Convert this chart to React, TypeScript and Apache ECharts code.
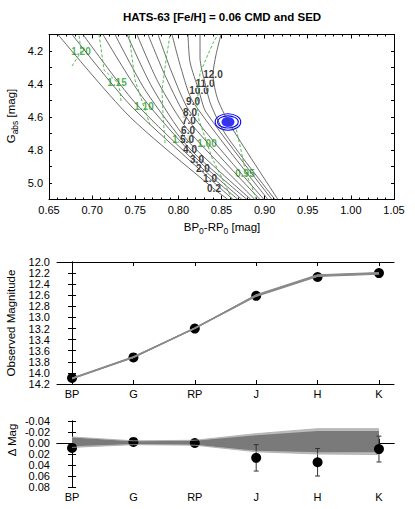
import React, { useEffect, useRef } from 'react';
import * as echarts from 'echarts';

const FONT = 'Liberation Sans, Arial, Helvetica, sans-serif';

// ---------- Panel 1: CMD ----------
const ageLabels = ['0.2', '1.0', '2.0', '3.0', '4.0', '5.0', '6.0', '7.0', '8.0', '9.0', '10.0', '11.0', '12.0'];
const isochrones: number[][][] = [
  [[0.6604, 4.10], [0.7428, 4.594], [0.8413, 5.036], [0.8575, 5.10]],
  [[0.6767, 4.10], [0.7451, 4.533], [0.8367, 4.975], [0.8633, 5.10]],
  [[0.6894, 4.10], [0.7486, 4.506], [0.8285, 4.915], [0.8691, 5.10]],
  [[0.7126, 4.10], [0.7578, 4.476], [0.8216, 4.855], [0.8738, 5.10]],
  [[0.7265, 4.10], [0.7625, 4.445], [0.8135, 4.794], [0.8796, 5.10]],
  [[0.7404, 4.10], [0.7694, 4.418], [0.8100, 4.739], [0.8842, 5.10]],
  [[0.7520, 4.10], [0.7764, 4.388], [0.8112, 4.679], [0.8888, 5.10]],
  [[0.7648, 4.10], [0.7857, 4.361], [0.8123, 4.624], [0.8946, 5.10]],
  [[0.7764, 4.10], [0.7926, 4.333], [0.8135, 4.570], [0.8993, 5.10]],
  [[0.7926, 4.10], [0.8030, 4.303], [0.8170, 4.509], [0.9039, 5.10]],
  [[0.8112, 4.10], [0.8135, 4.267], [0.8239, 4.442], [0.8320, 4.570], [0.9085, 5.10]],
  [[0.8251, 4.10], [0.8251, 4.242], [0.8309, 4.394], [0.8378, 4.527], [0.8552, 4.709], [0.9120, 5.10]],
  [[0.8494, 4.10], [0.8436, 4.224], [0.8401, 4.345], [0.8459, 4.497], [0.8622, 4.667], [0.9155, 5.10]],
];
const ageLabelPos: number[][] = [
  [0.8413, 5.036], [0.8367, 4.975], [0.8285, 4.915], [0.8216, 4.855], [0.8135, 4.794],
  [0.8100, 4.739], [0.8112, 4.679], [0.8123, 4.624], [0.8135, 4.570], [0.8170, 4.509],
  [0.8239, 4.442], [0.8309, 4.394], [0.8401, 4.345],
];
const massLabels = ['1.20', '1.15', '1.10', '1.05', '1.00', '0.95'];
const massTracks: number[][][] = [
  [[0.6767, 4.291], [0.6871, 4.206], [0.6848, 4.10]],
  [[0.7335, 4.503], [0.7323, 4.442], [0.7288, 4.388], [0.7138, 4.315], [0.7080, 4.10]],
  [[0.7671, 4.648], [0.7601, 4.539], [0.7497, 4.376], [0.7451, 4.194], [0.7428, 4.10]],
  [[0.7845, 4.758], [0.7822, 4.588], [0.7810, 4.436], [0.7857, 4.255], [0.7903, 4.10]],
  [[0.8622, 5.10], [0.8506, 4.970], [0.8390, 4.848], [0.8332, 4.758], [0.8239, 4.618], [0.8216, 4.527], [0.8251, 4.333], [0.8401, 4.152], [0.8459, 4.10]],
  [[0.8900, 5.10], [0.8854, 5.024], [0.8784, 4.945], [0.8726, 4.800], [0.8668, 4.667]],
];
const massLabelPos: number[][] = [
  [0.6871, 4.206], [0.7288, 4.388], [0.7601, 4.539], [0.8042, 4.739], [0.8332, 4.758], [0.8772, 4.945],
];
const starCMD = [0.8575, 4.63];
// half-widths of the two confidence ellipses [colour, magnitude]
const starEllipses: number[][] = [[0.0148, 0.050], [0.0120, 0.037]];

// ---------- Panel 2: SED ----------
const bands = ['BP', 'G', 'RP', 'J', 'H', 'K'];
const bandIdx = [0, 1, 2, 3, 4, 5];
const observedMag = [14.09, 13.72, 13.20, 12.61, 12.27, 12.20];
const modelMags: number[][] = [
  [14.10, 13.72, 13.19, 12.60, 12.24, 12.20],
  [14.09, 13.71, 13.19, 12.61, 12.25, 12.21],
  [14.11, 13.72, 13.20, 12.62, 12.26, 12.22],
  [14.10, 13.71, 13.20, 12.59, 12.23, 12.19],
  [14.10, 13.72, 13.19, 12.61, 12.25, 12.20],
];

// ---------- Panel 3: residuals ----------
const residuals = [0.009, -0.002, 0.000, 0.027, 0.035, 0.011];
const residualErr = [0.003, 0.003, 0.003, 0.024, 0.025, 0.0235];
const modelEdgeLow = [-0.011, -0.004, -0.005, -0.017, -0.026, -0.026];
const modelEdgeHigh = [0.008, 0.003, 0.004, 0.016, 0.020, 0.021];
const modelCoreLow = [-0.010, -0.003, -0.004, -0.014, -0.022, -0.022];
const modelCoreHigh = [0.006, 0.002, 0.003, 0.014, 0.017, 0.017];

const axisLineStyle = { show: true, lineStyle: { color: '#000', width: 1 } };
const labelStyle = { color: '#000', fontSize: 11, fontFamily: FONT };

function bandAxis(grid: number, pos: 'top' | 'bottom', showLabel: boolean) {
  return {
    type: 'value', gridIndex: grid, position: pos, min: -0.245, max: 5.245,
    axisLine: axisLineStyle,
    axisTick: { show: true, inside: true, length: 4, customValues: bandIdx, lineStyle: { color: '#000' } },
    axisLabel: {
      show: showLabel, customValues: bandIdx, margin: 4, ...labelStyle,
      formatter: (v: number) => bands[Math.round(v)] ?? '',
    },
    splitLine: { show: false },
  };
}

const rich = {
  a: { fontSize: 11.5, fontFamily: FONT, color: '#000', lineHeight: 12, verticalAlign: 'top' },
  s: { fontSize: 8.5, fontFamily: FONT, color: '#000', lineHeight: 14, verticalAlign: 'bottom' },
};

export default function App() {
  const ref = useRef<HTMLDivElement>(null);
  useEffect(() => {
    if (!ref.current) return;
    const chart = echarts.init(ref.current, undefined, { renderer: 'svg' });
    const grids = [
      { left: 49, top: 34.5, width: 345, height: 165 },
      { left: 57, top: 262, width: 337, height: 122 },
      { left: 57, top: 421, width: 337, height: 66 },
    ];
    const cmdX = (pos: 'top' | 'bottom', show: boolean) => ({
      type: 'value', gridIndex: 0, position: pos, min: 0.65, max: 1.05, interval: 0.05,
      axisLine: axisLineStyle,
      axisTick: { show: true, inside: true, length: 4, lineStyle: { color: '#000' } },
      minorTick: { show: true, splitNumber: 5, length: 2, lineStyle: { color: '#000' } },
      axisLabel: { show: show, margin: 5, ...labelStyle, formatter: (v: number) => v.toFixed(2) },
      splitLine: { show: false },
    });
    const cmdY = (pos: 'left' | 'right', show: boolean) => ({
      type: 'value', gridIndex: 0, position: pos, inverse: true, min: 4.1, max: 5.1, interval: 0.1,
      axisLine: axisLineStyle,
      axisTick: { show: true, inside: true, length: 3, lineStyle: { color: '#000' } },
      axisLabel: {
        show: show, margin: 6, ...labelStyle,
        formatter: (v: number) => (Math.round(v * 10) % 2 === 0 ? v.toFixed(1) : ''),
      },
      splitLine: { show: false },
    });
    const sedY = (pos: 'left' | 'right', show: boolean) => ({
      type: 'value', gridIndex: 1, position: pos, inverse: true, min: 12.0, max: 14.2, interval: 0.2,
      axisLine: axisLineStyle,
      axisTick: { show: true, inside: true, length: 4, lineStyle: { color: '#000' } },
      axisLabel: { show: show, margin: 7, ...labelStyle, formatter: (v: number) => v.toFixed(1) },
      splitLine: { show: false },
    });
    const resY = (pos: 'left' | 'right', show: boolean) => ({
      type: 'value', gridIndex: 2, position: pos, inverse: true, min: -0.04, max: 0.08, interval: 0.02,
      axisLine: axisLineStyle,
      axisTick: { show: true, inside: true, length: 4, lineStyle: { color: '#000' } },
      axisLabel: { show: show, margin: 7, ...labelStyle, formatter: (v: number) => v.toFixed(2) },
      splitLine: { show: false },
    });

    const series: any[] = [];
    isochrones.forEach((iso, i) => {
      series.push({
        type: 'line', name: 'iso' + ageLabels[i], xAxisIndex: 0, yAxisIndex: 0,
        data: iso, showSymbol: false, smooth: 0.25, silent: true, clip: true,
        lineStyle: { color: '#454545', width: 0.8 },
      });
    });
    massTracks.forEach((tr, i) => {
      series.push({
        type: 'line', name: 'track' + massLabels[i], xAxisIndex: 0, yAxisIndex: 0,
        data: tr, showSymbol: false, silent: true, clip: true,
        lineStyle: { color: '#3fb43f', width: 0.9, type: [3, 2] },
      });
    });
    const labelCommon = {
      show: true, position: 'inside', fontSize: 10, fontWeight: 'bold', fontFamily: FONT,
      backgroundColor: '#fff', padding: [0, 1, 0, 1], lineHeight: 10,
      formatter: (p: any) => p.name,
    };
    series.push({
      type: 'scatter', xAxisIndex: 0, yAxisIndex: 0, symbolSize: 1, silent: true,
      itemStyle: { color: 'rgba(0,0,0,0)' },
      label: { ...labelCommon, color: '#22a022' },
      data: massLabels.map((t, i) => ({ name: t, value: massLabelPos[i] })),
    });
    series.push({
      type: 'scatter', xAxisIndex: 0, yAxisIndex: 0, symbolSize: 1, silent: true,
      itemStyle: { color: 'rgba(0,0,0,0)' },
      label: { ...labelCommon, color: '#000' },
      data: ageLabels.map((t, i) => ({ name: t, value: ageLabelPos[i] })),
    });
    series.push({
      type: 'custom', xAxisIndex: 0, yAxisIndex: 0, silent: true,
      data: starEllipses.map((e) => [starCMD[0], starCMD[1], e[0], e[1]]),
      renderItem: (_p: any, api: any) => {
        const c = api.coord([api.value(0), api.value(1)]);
        const s = api.size([api.value(2), api.value(3)]);
        return {
          type: 'ellipse', shape: { cx: c[0], cy: c[1], rx: s[0], ry: s[1] },
          style: { fill: 'none', stroke: '#0000ff', lineWidth: 1.1 },
        };
      },
    });
    series.push({
      type: 'scatter', xAxisIndex: 0, yAxisIndex: 0, silent: true,
      symbol: 'circle', symbolSize: [13, 10], itemStyle: { color: '#0000ff' },
      data: [starCMD],
    });

    // SED
    modelMags.forEach((m, k) => {
      series.push({
        type: 'line', name: 'model' + k, xAxisIndex: 2, yAxisIndex: 2, silent: true,
        data: bandIdx.map((i) => [i, m[i]]), showSymbol: false,
        lineStyle: { color: '#8a8a8a', width: 1.1 },
      });
    });
    series.push({
      type: 'scatter', xAxisIndex: 2, yAxisIndex: 2, silent: true,
      symbolSize: 10, itemStyle: { color: '#000', opacity: 1 },
      data: bandIdx.map((i) => [i, observedMag[i]]),
    });

    // Residuals
    const bandPoly = (low: number[], high: number[], fill: string) => ({
      type: 'custom', xAxisIndex: 4, yAxisIndex: 4, silent: true, data: [[0, 0]],
      renderItem: (_p: any, api: any) => {
        const pts = bandIdx.map((i) => api.coord([i, low[i]]))
          .concat(bandIdx.slice().reverse().map((i) => api.coord([i, high[i]])));
        return { type: 'polygon', shape: { points: pts }, style: { fill } };
      },
    });
    series.push(bandPoly(modelEdgeLow, modelEdgeHigh, '#bdbdbd'));
    series.push(bandPoly(modelCoreLow, modelCoreHigh, '#7a7a7a'));
    [modelEdgeLow, modelEdgeHigh].forEach((arr, k) => {
      series.push({
        type: 'line', name: 'edge' + k, xAxisIndex: 4, yAxisIndex: 4, silent: true,
        data: bandIdx.map((i) => [i, arr[i]]), showSymbol: false,
        lineStyle: { color: '#a8a8a8', width: 0.8 },
      });
    });
    series.push({
      type: 'custom', xAxisIndex: 4, yAxisIndex: 4, silent: true,
      data: bandIdx.map((i) => [i, residuals[i], residualErr[i]]),
      renderItem: (_p: any, api: any) => {
        const x = api.value(0), y = api.value(1), e = api.value(2);
        const a = api.coord([x, y - e]);
        const b = api.coord([x, y + e]);
        const cap = 2.5;
        const st = { stroke: '#333', lineWidth: 1 };
        return {
          type: 'group', children: [
            { type: 'line', shape: { x1: a[0], y1: a[1], x2: b[0], y2: b[1] }, style: st },
            { type: 'line', shape: { x1: a[0] - cap, y1: a[1], x2: a[0] + cap, y2: a[1] }, style: st },
            { type: 'line', shape: { x1: b[0] - cap, y1: b[1], x2: b[0] + cap, y2: b[1] }, style: st },
          ],
        };
      },
    });
    series.push({
      type: 'scatter', xAxisIndex: 4, yAxisIndex: 4, silent: true,
      symbolSize: 10, itemStyle: { color: '#000', opacity: 1 },
      data: bandIdx.map((i) => [i, residuals[i]]),
    });

    chart.setOption({
      animation: false,
      backgroundColor: '#fff',
      grid: grids,
      xAxis: [
        cmdX('bottom', true), cmdX('top', false),
        bandAxis(1, 'bottom', true), bandAxis(1, 'top', false),
        bandAxis(2, 'bottom', true), bandAxis(2, 'top', false),
      ],
      yAxis: [
        cmdY('left', true), cmdY('right', false),
        sedY('left', true), sedY('right', false),
        resY('left', true), resY('right', false),
      ],
      series,
      graphic: [
        {
          type: 'text', x: 222, y: 17,
          style: {
            text: 'HATS-63 [Fe/H] = 0.06 CMD and SED', fontSize: 11.5, fontWeight: 'bold',
            fontFamily: FONT, fill: '#000', align: 'center', verticalAlign: 'middle',
          },
        },
        {
          type: 'text', x: 222, y: 228,
          style: {
            text: '{a|BP}{s|0}{a|-RP}{s|0}{a| [mag]}', rich, align: 'center', verticalAlign: 'middle',
          },
        },
        {
          type: 'text', x: 12, y: 116, rotation: Math.PI / 2,
          style: { text: '{a|G}{s|abs}{a| [mag]}', rich, align: 'center', verticalAlign: 'middle' },
        },
        {
          type: 'text', x: 11, y: 323, rotation: Math.PI / 2,
          style: {
            text: 'Observed Magnitude', fontSize: 11.5, fontFamily: FONT, fill: '#000',
            align: 'center', verticalAlign: 'middle',
          },
        },
        {
          type: 'text', x: 12, y: 440, rotation: Math.PI / 2,
          style: {
            text: 'Δ Mag', fontSize: 11.5, fontFamily: FONT, fill: '#000',
            align: 'center', verticalAlign: 'middle',
          },
        },
      ],
    });
    return () => chart.dispose();
  }, []);
  return <div ref={ref} style={{ position: 'absolute', left: 0, top: 0, width: 415, height: 509 }} />;
}
